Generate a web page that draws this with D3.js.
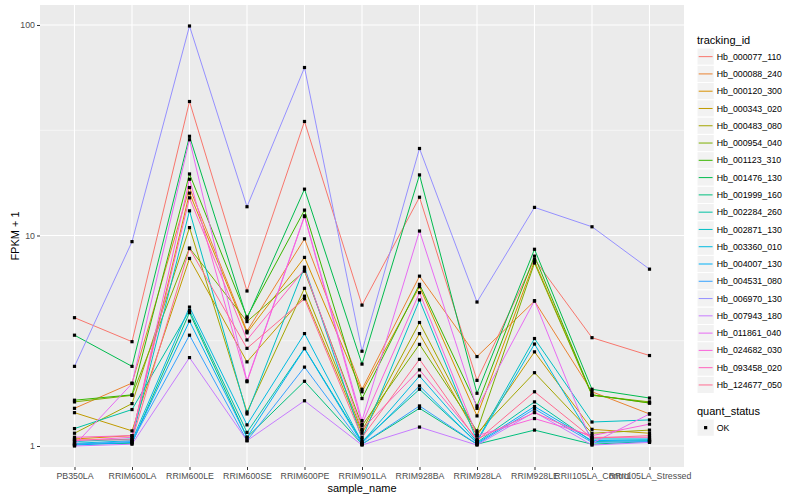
<!DOCTYPE html>
<html>
<head>
<meta charset="utf-8">
<script src="https://cdn.jsdelivr.net/npm/d3@7"></script>
<style>
  body { margin: 0; background: #fff; }
  text { font-family: "Liberation Sans", Arial, sans-serif; }
</style>
</head>
<body>
<svg id="chart" width="800" height="500"></svg>
<script>
// samples on the x axis
const samples = ["PB350LA", "RRIM600LA", "RRIM600LE", "RRIM600SE", "RRIM600PE", "RRIM901LA",
  "RRIM928BA", "RRIM928LA", "RRIM928LE", "RRII105LA_Control", "RRII105LA_Stressed"];

const trackingIds = ["Hb_000077_110", "Hb_000088_240", "Hb_000120_300", "Hb_000343_020", "Hb_000483_080",
  "Hb_000954_040", "Hb_001123_310", "Hb_001476_130", "Hb_001999_160", "Hb_002284_260",
  "Hb_002871_130", "Hb_003360_010", "Hb_004007_130", "Hb_004531_080", "Hb_006970_130",
  "Hb_007943_180", "Hb_011861_040", "Hb_024682_030", "Hb_093458_020", "Hb_124677_050"];

// default ggplot hue palette for 20 levels
const colours = ["#F8766D", "#EA8331", "#D89000", "#C09B00", "#A3A500", "#7CAE00", "#39B600", "#00BB4E",
  "#00BF7D", "#00C1A3", "#00BFC4", "#00BAE0", "#00B0F6", "#35A2FF", "#9590FF", "#C77CFF",
  "#E76BF3", "#FA62DB", "#FF62BC", "#FF6C91"];

// FPKM + 1, one row per tracking id, one value per sample
const fpkm = [
  [4.07, 3.13, 43.3, 5.45, 34.8, 4.67, 15.2, 2.05, 7.7, 3.27, 2.69],
  [1.51, 1.99, 16.9, 3.51, 9.64, 1.86, 6.41, 2.66, 4.88, 1.81, 1.42],
  [1.08, 1.12, 15.9, 3.45, 7.87, 1.81, 5.71, 1.39, 7.55, 1.75, 1.60],
  [1.44, 1.18, 7.78, 2.51, 5.15, 1.15, 3.42, 1.12, 2.80, 1.20, 1.15],
  [1.15, 1.59, 10.9, 1.45, 5.61, 1.18, 3.86, 1.15, 2.23, 1.15, 1.19],
  [1.62, 1.74, 8.72, 3.90, 6.77, 1.25, 3.04, 1.18, 7.40, 1.74, 1.62],
  [1.65, 1.75, 19.6, 4.10, 13.2, 1.68, 5.86, 1.55, 7.98, 1.75, 1.60],
  [3.36, 2.39, 29.6, 4.04, 16.6, 2.45, 19.4, 1.78, 8.60, 1.86, 1.69],
  [1.02, 1.03, 4.30, 1.10, 2.03, 1.02, 1.51, 1.02, 1.19, 1.02, 1.05],
  [1.21, 1.49, 4.40, 1.16, 2.91, 1.05, 1.86, 1.04, 1.62, 1.05, 1.06],
  [1.05, 1.08, 13.1, 1.42, 7.07, 1.08, 4.94, 1.06, 3.24, 1.30, 1.33],
  [1.03, 1.06, 4.57, 1.26, 3.42, 1.04, 2.15, 1.05, 3.05, 1.08, 1.08],
  [1.01, 1.04, 3.92, 1.10, 2.90, 1.03, 1.93, 1.03, 1.54, 1.06, 1.07],
  [1.02, 1.05, 3.36, 1.06, 2.37, 1.02, 1.55, 1.02, 1.50, 1.04, 1.05],
  [2.39, 9.35, 98.9, 13.7, 62.8, 2.82, 25.9, 4.83, 13.6, 11.0, 6.92],
  [1.00, 1.02, 2.63, 1.06, 1.64, 1.01, 1.23, 1.01, 1.45, 1.01, 1.04],
  [1.01, 1.98, 28.5, 2.04, 12.4, 1.32, 10.5, 1.51, 4.90, 1.03, 1.42],
  [1.06, 1.10, 18.5, 2.02, 12.3, 1.27, 5.35, 1.12, 1.35, 1.12, 1.27],
  [1.10, 1.12, 15.1, 3.19, 6.90, 1.20, 2.30, 1.08, 1.44, 1.10, 1.10],
  [1.07, 1.07, 8.67, 2.91, 5.00, 1.10, 2.58, 1.06, 1.81, 1.09, 1.12]
];

const yTicks = [1, 10, 100];
const yMinor = [Math.sqrt(10), Math.sqrt(1000)];

const svg = d3.select("#chart");
const pLeft = 40, pRight = 684, pTop = 5, pBottom = 467;

const x = d3.scalePoint().domain(samples).range([pLeft, pRight]).padding(0.6);

// log scale with ggplot's 5% expansion
const allVals = fpkm.flat();
const lo = Math.log10(d3.min(allVals)), hi = Math.log10(d3.max(allVals));
const pad = (hi - lo) * 0.05;
const y = d3.scaleLog().domain([10 ** (lo - pad), 10 ** (hi + pad)]).range([pBottom, pTop]);

const colour = d3.scaleOrdinal().domain(trackingIds).range(colours);

// panel
svg.append("rect")
  .attr("x", pLeft).attr("y", pTop)
  .attr("width", pRight - pLeft).attr("height", pBottom - pTop)
  .attr("fill", "#EBEBEB");

const grid = svg.append("g");
grid.selectAll(".minor").data(yMinor).join("line")
  .attr("x1", pLeft).attr("x2", pRight)
  .attr("y1", d => y(d)).attr("y2", d => y(d))
  .attr("stroke", "#fff").attr("stroke-width", 0.55);
grid.selectAll(".hmajor").data(yTicks).join("line")
  .attr("x1", pLeft).attr("x2", pRight)
  .attr("y1", d => y(d)).attr("y2", d => y(d))
  .attr("stroke", "#fff").attr("stroke-width", 1.1);
grid.selectAll(".vmajor").data(samples).join("line")
  .attr("x1", d => x(d)).attr("x2", d => x(d))
  .attr("y1", pTop).attr("y2", pBottom)
  .attr("stroke", "#fff").attr("stroke-width", 1.1);

// lines
const line = d3.line()
  .x((d, i) => x(samples[i]))
  .y(d => y(d));

svg.append("g").selectAll("path").data(fpkm).join("path")
  .attr("d", line)
  .attr("fill", "none")
  .attr("stroke", (d, i) => colour(trackingIds[i]))
  .attr("stroke-width", 1);

// points
const pts = fpkm.flatMap(row => row.map((v, i) => ({ s: samples[i], v })));
svg.append("g").selectAll("rect").data(pts).join("rect")
  .attr("x", d => x(d.s) - 1.6).attr("y", d => y(d.v) - 1.6)
  .attr("width", 3.2).attr("height", 3.2)
  .attr("fill", "#000");

// axes
const yAxis = svg.append("g")
  .attr("transform", `translate(${pLeft},0)`)
  .call(d3.axisLeft(y).tickValues(yTicks).tickFormat(d3.format("d")).tickSize(3).tickPadding(2));
const xAxis = svg.append("g")
  .attr("transform", `translate(0,${pBottom})`)
  .call(d3.axisBottom(x).tickSize(3).tickPadding(3));

[yAxis, xAxis].forEach(a => {
  a.select(".domain").remove();
  a.selectAll(".tick line").attr("stroke", "#333");
  a.selectAll(".tick text").attr("fill", "#4D4D4D").style("font-size", "8.8px")
    .style("font-family", '"Liberation Sans", Arial, sans-serif');
});

svg.append("text")
  .attr("x", (pLeft + pRight) / 2).attr("y", 492)
  .attr("text-anchor", "middle").style("font-size", "11px")
  .text("sample_name");

svg.append("text")
  .attr("transform", `translate(18.5,${(pTop + pBottom) / 2}) rotate(-90)`)
  .attr("text-anchor", "middle").style("font-size", "11px")
  .text("FPKM + 1");

// legend: tracking_id
const lg = svg.append("g").attr("transform", "translate(697,0)");
lg.append("text").attr("x", 0).attr("y", 44).style("font-size", "11px").text("tracking_id");
const keyH = 17.28;
const items = lg.selectAll(".key").data(trackingIds).join("g")
  .attr("transform", (d, i) => `translate(0,${48 + i * keyH})`);
items.append("rect")
  .attr("width", keyH).attr("height", keyH)
  .attr("fill", "#F2F2F2").attr("stroke", "#fff").attr("stroke-width", 1);
items.append("line")
  .attr("x1", 1.7).attr("x2", keyH - 1.7)
  .attr("y1", keyH / 2).attr("y2", keyH / 2)
  .attr("stroke", d => colour(d)).attr("stroke-width", 1);
items.append("text")
  .attr("x", keyH + 2.5).attr("y", keyH / 2 + 3.1)
  .style("font-size", "8.8px").text(d => d);

// legend: quant_status
const lq = svg.append("g").attr("transform", "translate(697,0)");
lq.append("text").attr("x", 0).attr("y", 415).style("font-size", "11px").text("quant_status");
lq.append("rect").attr("x", 0).attr("y", 419).attr("width", keyH).attr("height", keyH)
  .attr("fill", "#F2F2F2").attr("stroke", "#fff");
lq.append("rect").attr("x", keyH / 2 - 1.6).attr("y", 419 + keyH / 2 - 1.6)
  .attr("width", 3.2).attr("height", 3.2).attr("fill", "#000");
lq.append("text").attr("x", keyH + 2.5).attr("y", 419 + keyH / 2 + 3.1)
  .style("font-size", "8.8px").text("OK");
</script>
</body>
</html>
